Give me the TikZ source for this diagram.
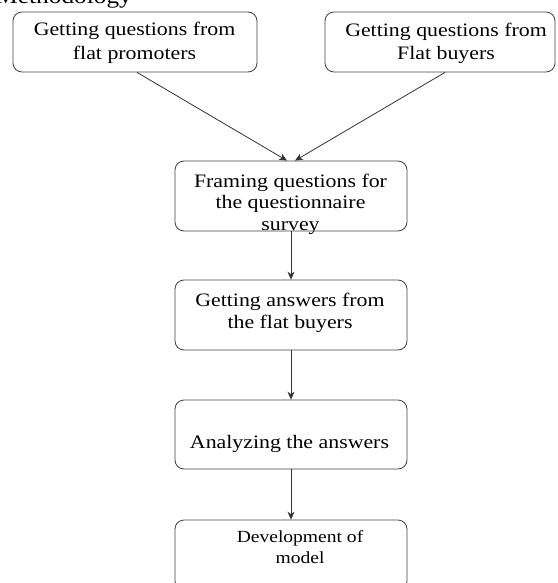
\documentclass[tikz,border=0pt]{standalone}
\usepackage{fontspec}
\setmainfont{Liberation Serif}[FakeStretch=1.15]
\usetikzlibrary{arrows.meta}
\begin{document}
\begin{tikzpicture}[x=1pt,y=-1pt,
  box/.style={draw=black!75, line width=0.8pt, rounded corners=9pt, inner sep=0pt},
  txt/.style={align=center, anchor=base, inner sep=0pt, font=\fontsize{19}{21.5}\selectfont},
  toptxt/.style={txt, font=\fontsize{19}{23.5}\selectfont},
  smalltxt/.style={txt, font=\fontsize{17}{21}\selectfont},
  titletxt/.style={txt, font=\fontsize{22}{24}\selectfont},
  arr/.style={draw=black!80, line width=0.8pt, -{Stealth[length=8pt,width=7pt]}}]
\useasboundingbox (0,0) rectangle (557,583);
\clip (0,0) rectangle (557,583);
% title fragment (cut by the top edge)
\node[titletxt, anchor=base east] (title) at (132,3.5) {Methodology};
% boxes
\node[box, minimum width=244pt, minimum height=60pt] (b1) at (135,42) {};
\node[box, minimum width=230pt, minimum height=60pt] (b2) at (440,42) {};
\node[box, minimum width=232pt, minimum height=70pt] (b3) at (291,196) {};
\node[box, minimum width=232pt, minimum height=70pt] (b4) at (291,315) {};
\node[box, minimum width=232pt, minimum height=69pt] (b5) at (291,434.5) {};
\node[box, minimum width=232pt, minimum height=70pt] (b6) at (291,555) {};
% texts (anchor = baseline of last line)
\node[toptxt] (t1) at (134.5,59.3) {Getting questions from\\flat promoters};
\node[toptxt] (t2) at (446,60) {Getting questions from\\Flat buyers};
\node[txt] (t3) at (290.5,230) {Framing questions for\\the questionnaire\\survey};
\node[txt] (t4) at (290,328) {Getting answers from\\the flat buyers};
\node[txt] (t5) at (289.5,448) {Analyzing the answers};
\node[smalltxt] (t6) at (300,563) {Development of\\model};
% connectors
\draw[arr] ([xshift=2pt]b1.south) -- ([xshift=-4pt]b3.north);
\draw[arr] ([xshift=5pt]b2.south) -- ([xshift=4pt]b3.north);
\draw[arr] (b3.south) -- (b4.north);
\draw[arr] (b4.south) -- (b5.north);
\draw[arr] (b5.south) -- (b6.north);
\end{tikzpicture}
\end{document}
